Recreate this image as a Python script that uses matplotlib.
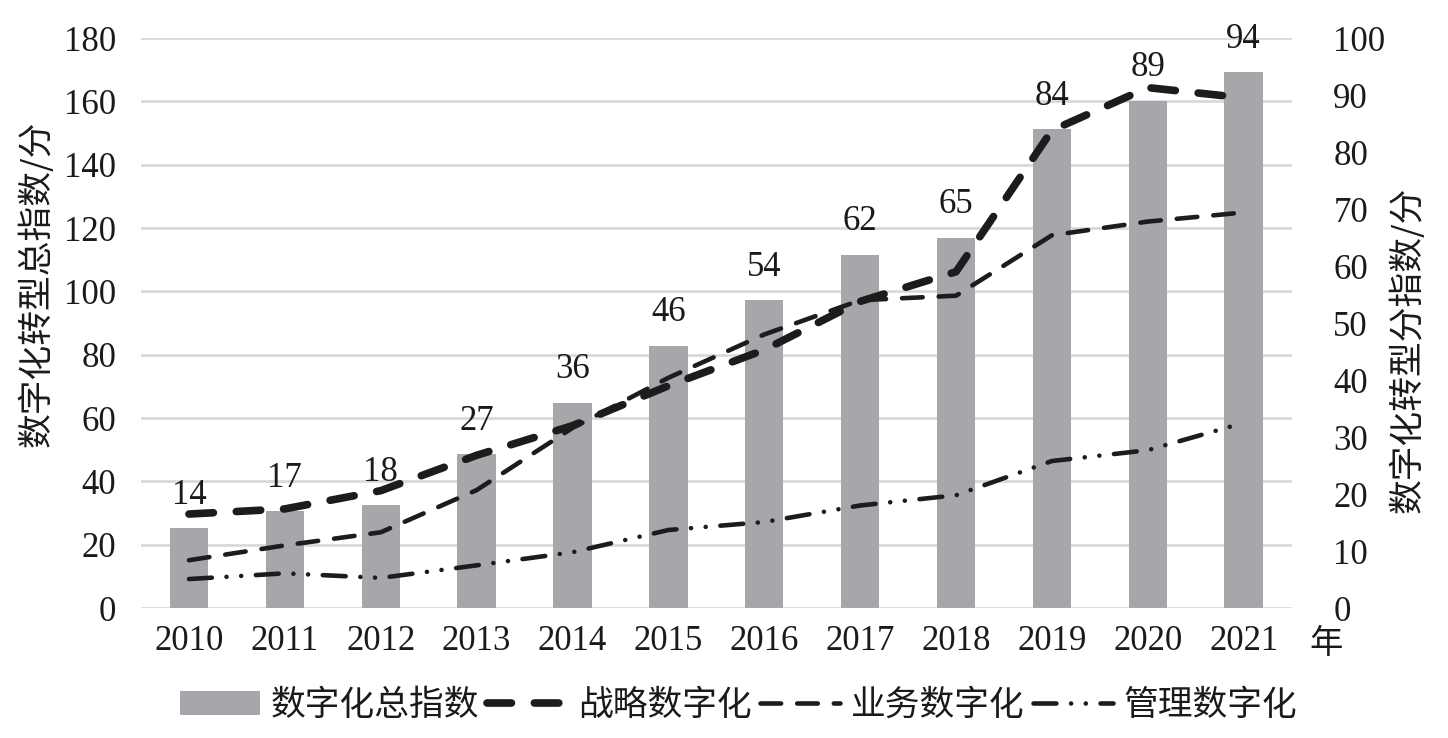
import matplotlib
matplotlib.use("Agg")
import matplotlib.pyplot as plt
import numpy as np

years = ["2010", "2011", "2012", "2013", "2014", "2015", "2016", "2017", "2018", "2019", "2020", "2021"]
total_index = [14, 17, 18, 27, 36, 46, 54, 62, 65, 84, 89, 94]
strategy = [16.5, 17.4, 20.6, 26.8, 32.0, 39.0, 45.3, 53.8, 59.0, 83.8, 91.3, 89.5]
business = [8.4, 11.0, 13.3, 20.7, 31.6, 40.4, 48.0, 54.0, 54.8, 65.4, 67.8, 69.4]
management = [5.1, 6.1, 5.3, 7.5, 9.8, 13.7, 15.1, 18.0, 19.8, 25.8, 27.7, 32.5]

left_ticks = list(range(0, 181, 20))
right_ticks = list(range(0, 101, 10))

plt.rcParams['font.family'] = ['Liberation Serif', 'Noto Sans CJK SC']

W, H = 1448, 738
fig = plt.figure(figsize=(W / 100, H / 100), dpi=100)
ax1 = fig.add_axes([0.0974, 0.176, 0.7946, 0.7725])
ax2 = ax1.twinx()

x = np.arange(len(years))
bar_color = "#a6a7ab"
line_color = "#1c1c1c"
text_color = "#1a1a1a"
num_size = 25
cjk_size = 25

ax1.set_ylim(0, 180)
ax1.set_yticks(left_ticks)
ax1.set_xlim(-0.5, len(years) - 0.5)
ax1.grid(axis='y', color='#d9d9d9', linewidth=2)
ax1.set_axisbelow(True)
for s in ax1.spines.values():
    s.set_visible(False)
ax1.tick_params(axis='both', length=0, labelsize=num_size, colors=text_color)
ax1.tick_params(axis='y', pad=18)
ax1.tick_params(axis='x', pad=12)
ax1.set_xticks(x)
ax1.set_xticklabels(years)

ax2.set_ylim(0, 100)
ax2.set_yticks(right_ticks)
for s in ax2.spines.values():
    s.set_visible(False)
ax2.tick_params(axis='y', length=0, labelsize=num_size, pad=30, colors=text_color)

fig.text(37 / W, 1 - 284 / H, "数字化转型总指数/分", rotation=90, ha='center', va='center',
         fontsize=cjk_size, family=['Noto Sans CJK SC'], color=text_color)
fig.text(1408 / W, 1 - 350 / H, "数字化转型分指数/分", rotation=90, ha='center', va='center',
         fontsize=cjk_size, family=['Noto Sans CJK SC'], color=text_color)

bars = ax2.bar(x, total_index, width=0.4, color=bar_color, label="数字化总指数", zorder=1)
for xi, v in zip(x, total_index):
    ax2.annotate(str(v), (xi, v), xytext=(0, 12), textcoords='offset points',
                 ha='center', va='bottom', fontsize=num_size, color=text_color)

l1, = ax2.plot(x, strategy, color=line_color, lw=5.5, dashes=(3.2, 3.0),
               dash_capstyle='round', solid_capstyle='round', label="战略数字化", zorder=3)
l2, = ax2.plot(x, business, color=line_color, lw=3.3, dashes=(4.5, 3.5),
               dash_capstyle='round', label="业务数字化", zorder=3)
l3, = ax2.plot(x, management, color=line_color, lw=3.3, dashes=(5, 3.2, 0.01, 3.2, 0.01, 3.2),
               dash_capstyle='round', label="管理数字化", zorder=3)

fig.text(1326 / W, 1 - 644 / H, "年", fontsize=24, family=['Noto Sans CJK SC'],
         ha='center', va='center', color=text_color)

leg = fig.legend(handles=[bars, l1, l2, l3], loc='center', bbox_to_anchor=(0.51, 0.044), ncol=4,
                 frameon=False, handlelength=2.3, handletextpad=0.3,
                 columnspacing=0.25, prop={'family': ['Noto Sans CJK SC'], 'size': cjk_size})
for t in leg.get_texts():
    t.set_color(text_color)

fig.savefig("out.png", dpi=100)
